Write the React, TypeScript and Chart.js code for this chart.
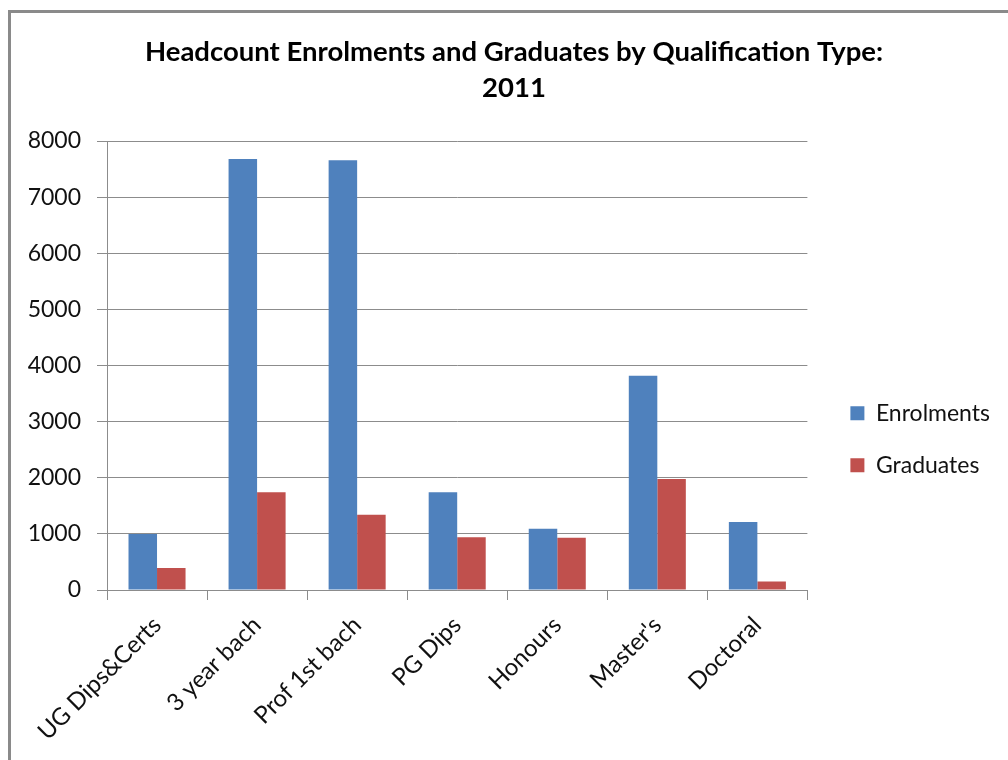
import React, { useEffect, useRef } from "react";
import { Chart, registerables } from "chart.js";

Chart.register(...registerables);

const categories = ["UG Dips&Certs", "3 year bach", "Prof 1st bach", "PG Dips", "Honours", "Master's", "Doctoral"];
const enrolments = [1000, 7680, 7660, 1740, 1090, 3820, 1210];
const graduates = [390, 1740, 1340, 940, 930, 1980, 150];
const titleLines = ["Headcount Enrolments and Graduates by Qualification Type:", "2011"];
const yMin = 0;
const yMax = 8000;
const yStep = 1000;

const FONT = "Lato, 'Open Sans', 'Liberation Sans', sans-serif";

export default function App() {
  const ref = useRef<HTMLCanvasElement | null>(null);

  useEffect(() => {
    if (!ref.current) return;
    const chart = new Chart(ref.current, {
      type: "bar",
      data: {
        labels: categories,
        datasets: [
          { label: "Enrolments", data: enrolments, backgroundColor: "#4F81BD", categoryPercentage: 0.57, barPercentage: 1.0 },
          { label: "Graduates", data: graduates, backgroundColor: "#C0504D", categoryPercentage: 0.57, barPercentage: 1.0 },
        ],
      },
      options: {
        responsive: false,
        animation: false,
        layout: { padding: { left: 28, right: 8, top: 0, bottom: 0 } },
        plugins: {
          tooltip: { enabled: false },
          title: {
            display: true,
            text: titleLines,
            color: "#000",
            font: { family: FONT, size: 27.5, weight: "bold", lineHeight: 1.31 },
            padding: { top: 34, bottom: 35 },
          },
          legend: {
            position: "right",
            align: "center",
            title: { display: true, text: " ", font: { size: 12, lineHeight: 1.2 }, padding: { top: 104, bottom: 0 } },
            labels: {
              boxWidth: 14,
              boxHeight: 14,
              padding: 29,
              color: "#111",
              font: { family: FONT, size: 23 },
            },
          },
        },
        scales: {
          x: {
            grid: { drawOnChartArea: false, drawTicks: true, tickLength: 10, color: "#8c8c8c", offset: true },
            border: { display: true, color: "#8c8c8c", width: 1 },
            ticks: {
              color: "#111",
              font: { family: FONT, size: 24 },
              maxRotation: 45,
              minRotation: 45,
              padding: 11,
              autoSkip: false,
            },
            afterFit: (s: any) => { s.height = 170; },
          },
          y: {
            min: yMin,
            max: yMax,
            grid: { color: "#8c8c8c", tickLength: 10, drawTicks: true },
            border: { display: true, color: "#8c8c8c", width: 1 },
            ticks: {
              stepSize: yStep,
              color: "#111",
              font: { family: FONT, size: 23 },
              padding: 16,
              callback: (v: any) => String(v),
            },
            afterFit: (s: any) => { s.width = 79; },
          },
          y2: {
            position: "right",
            display: false,
            weight: 0,
            afterFit: (s: any) => { s.width = 14; },
          },
        },
      },
    });
    return () => chart.destroy();
  }, []);

  return (
    <div style={{ position: "fixed", left: 0, top: 0, width: 1008, height: 760, overflow: "hidden", background: "#fff" }}>
      <canvas ref={ref} width={1008} height={760} style={{ position: "absolute", left: 0, top: 0, width: 1008, height: 760 }} />
      <div
        style={{
          position: "absolute",
          left: 8,
          top: 10,
          width: 1100,
          height: 900,
          borderLeft: "3px solid #8a8a8a",
          borderTop: "3px solid #8a8a8a",
          pointerEvents: "none",
        }}
      />
    </div>
  );
}
